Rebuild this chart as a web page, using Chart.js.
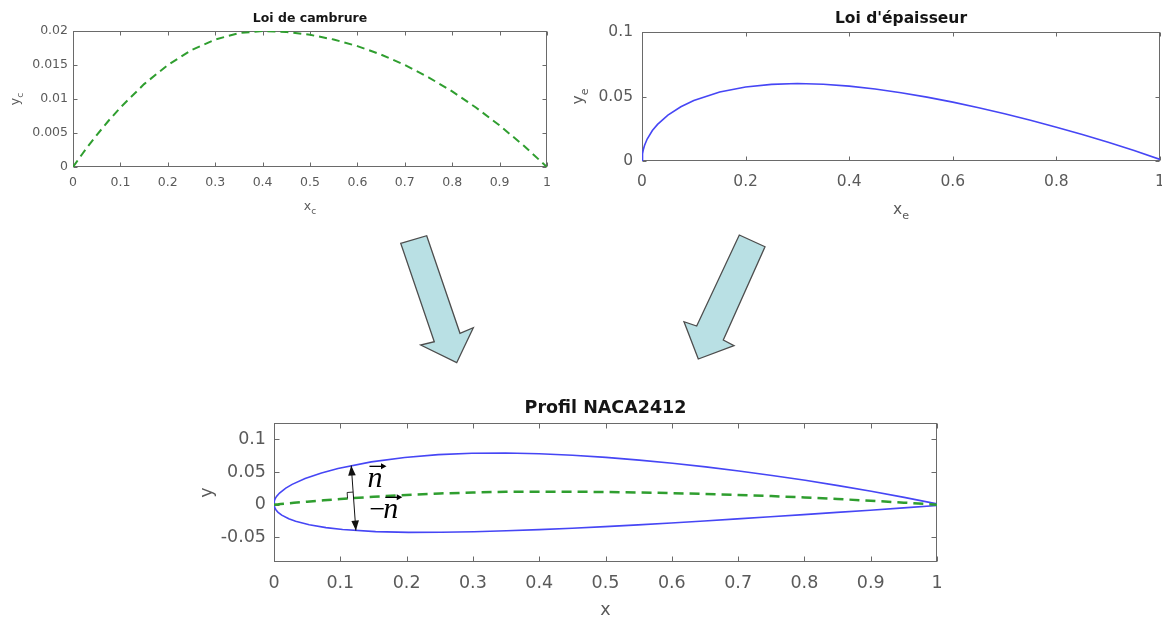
<!DOCTYPE html>
<html><head><meta charset="utf-8">
<script src="https://cdn.jsdelivr.net/npm/chart.js@4.4.1/dist/chart.umd.min.js"></script>
<style>
html,body{margin:0;padding:0;background:#fff;overflow:hidden;width:1162px;height:619px;}
#wrap{position:relative;width:1162px;height:619px;}
canvas{position:absolute;}
</style></head><body>
<div id="wrap">
<canvas id="arrows" width="1162" height="619" style="left:0px;top:0px"></canvas>
<canvas id="c1" width="560" height="220" style="left:0px;top:0px"></canvas>
<canvas id="c2" width="592" height="225" style="left:570px;top:0px"></canvas>
<canvas id="c3" width="780" height="224" style="left:180px;top:395px"></canvas>
</div>
<script>
// ---------- data (NACA 2412) ----------
const xs = [0,0.001,0.0025,0.005,0.01,0.02,0.03,0.05,0.075,0.1,0.15,0.2,0.25,0.3,0.35,0.4,0.45,0.5,0.55,0.6,0.65,0.7,0.75,0.8,0.85,0.9,0.95,1];
const camberY = [0,0.0001,0.00025,0.0005,0.00099,0.00195,0.00289,0.00469,0.0068,0.00875,0.01219,0.015,0.01719,0.01875,0.01969,0.02,0.01986,0.01944,0.01875,0.01778,0.01653,0.015,0.01319,0.01111,0.00875,0.00611,0.00319,0];
const thickY = [0,0.00556,0.00872,0.01221,0.01704,0.0236,0.0284,0.03555,0.042,0.04683,0.05345,0.05738,0.05941,0.06002,0.05949,0.05803,0.05581,0.05294,0.04953,0.04563,0.04133,0.03664,0.0316,0.02623,0.02053,0.01448,0.00807,0.00126];
const upperX = [0,0.00045,0.00164,0.0038,0.00835,0.01777,0.02738,0.0469,0.0716,0.0965,0.14667,0.19714,0.24777,0.2985,0.34926,0.4,0.45031,0.50059,0.55083,0.60101,0.65115,0.70122,0.75123,0.80117,0.85103,0.9008,0.95049,1];
const upperY = [0,0.00563,0.00892,0.01265,0.01794,0.02544,0.03117,0.0401,0.04866,0.05545,0.06554,0.0723,0.07656,0.07875,0.07917,0.07803,0.07567,0.07238,0.06827,0.0634,0.05784,0.05162,0.04477,0.03732,0.02925,0.02057,0.01125,0.00126];
const lowerX = [0,0.00155,0.00336,0.0062,0.01165,0.02223,0.03262,0.0531,0.0784,0.1035,0.15333,0.20287,0.25223,0.3015,0.35074,0.4,0.44969,0.49941,0.54918,0.59899,0.64885,0.69878,0.74877,0.79884,0.84898,0.8992,0.94951,1];
const lowerY = [0,-0.00543,-0.00843,-0.01166,-0.01597,-0.02154,-0.02539,-0.03073,-0.03506,-0.03795,-0.04116,-0.0423,-0.04218,-0.04125,-0.03979,-0.03803,-0.03595,-0.03349,-0.03077,-0.02785,-0.02478,-0.02162,-0.01839,-0.01509,-0.01175,-0.00834,-0.00486,-0.00126];

// normal vector annotation (data coordinates)
const nTop = [0.1165, 0.05996];
const nBottom = [0.1235, -0.03956];
const nFoot = [0.12, 0.0102];
const nFootSlope = 0.07;
const nLabelTop = [0.141, 0.0266];
const nLabelBottom = [0.144, -0.0208];

// tick labels
const xTicksTenths = [0,0.1,0.2,0.3,0.4,0.5,0.6,0.7,0.8,0.9,1];
const xTicksFifths = [0,0.2,0.4,0.6,0.8,1];
const yTicksCamber = [0,0.005,0.01,0.015,0.02];
const yTicksThick = [0,0.05,0.1];
const yTicksProfile = [-0.05,0,0.05,0.1];

// ---------- styles ----------
const FONT = '"DejaVu Sans", "Liberation Sans", sans-serif';
const AXIS_COLOR = '#6a6a6a';
const TEXT_COLOR = '#5a5a5a';
const TITLE_COLOR = '#151515';
const GREEN = '#2f9e2f';
const BLUE = '#4646f5';

function pts(xa, ya){ return xa.map((v,i)=>({x:v, y:ya[i]})); }

function axis(min, max, tickVals, size, pad, prop, val){
  return {
    type:'linear', min:min, max:max,
    grid:{display:false, drawTicks:false},
    border:{display:false},
    afterBuildTicks: s => { s.ticks = tickVals.map(v => ({value:v})); },
    ticks:{font:{family:FONT, size:size}, color:TEXT_COLOR, padding:pad, maxRotation:0, autoSkip:false,
      callback: v => String(v)},
    afterFit: s => {
      s[prop] = val;
      s.paddingLeft = 0; s.paddingRight = 0; s.paddingTop = 0; s.paddingBottom = 0;
    }
  };
}

function drawLabel(ctx, main, sub, cx, cy, size, rot){
  ctx.save();
  ctx.translate(cx, cy);
  if (rot) ctx.rotate(-Math.PI/2);
  ctx.fillStyle = TEXT_COLOR;
  ctx.textBaseline = 'alphabetic';
  ctx.textAlign = 'left';
  ctx.font = size + 'px ' + FONT;
  const w1 = ctx.measureText(main).width;
  const ss = size * 0.72;
  ctx.font = ss + 'px ' + FONT;
  const w2 = sub ? ctx.measureText(sub).width : 0;
  const x0 = -(w1 + w2) / 2;
  const base = size * 0.27;
  ctx.font = size + 'px ' + FONT;
  ctx.fillText(main, x0, base);
  if (sub) { ctx.font = ss + 'px ' + FONT; ctx.fillText(sub, x0 + w1, base + size * 0.3); }
  ctx.restore();
}

const boxPlugin = {
  id:'matBox',
  beforeDatasetsDraw(chart, args, o){
    const {ctx, chartArea:a, scales:{x, y}} = chart;
    const L = Math.round(a.left) + 0.5, R = Math.round(a.right) - 0.5;
    const T = Math.round(a.top) + 0.5, B = Math.round(a.bottom) - 0.5;
    ctx.save();
    ctx.strokeStyle = AXIS_COLOR;
    ctx.lineWidth = 1;
    ctx.beginPath();
    x.ticks.forEach(t => {
      const p = Math.round(x.getPixelForValue(t.value)) + 0.5;
      ctx.moveTo(p, B); ctx.lineTo(p, B - o.tick);
      ctx.moveTo(p, T); ctx.lineTo(p, T + o.tick);
    });
    y.ticks.forEach(t => {
      const p = Math.round(y.getPixelForValue(t.value)) + 0.5;
      ctx.moveTo(L, p); ctx.lineTo(L + o.tick, p);
      ctx.moveTo(R, p); ctx.lineTo(R - o.tick, p);
    });
    ctx.stroke();
    ctx.strokeRect(L, T, R - L, B - T);
    ctx.restore();
  },
  afterDraw(chart, args, o){
    const {ctx, chartArea:a} = chart;
    drawLabel(ctx, o.xMain, o.xSub, (a.left + a.right)/2, a.bottom + o.xOff, o.size, false);
    drawLabel(ctx, o.yMain, o.ySub, a.left - o.yOff, (a.top + a.bottom)/2, o.size, true);
  }
};

function arrowHead(ctx, tx, ty, fx, fy, len, hw){
  const dx = tx - fx, dy = ty - fy, d = Math.hypot(dx, dy);
  const ux = dx/d, uy = dy/d;
  const bx = tx - ux*len, by = ty - uy*len;
  ctx.beginPath();
  ctx.moveTo(tx, ty);
  ctx.lineTo(bx - uy*hw, by + ux*hw);
  ctx.lineTo(bx + uy*hw, by - ux*hw);
  ctx.closePath();
  ctx.fill();
}

function vecN(ctx, px, py, minus){
  ctx.save();
  ctx.fillStyle = '#000'; ctx.strokeStyle = '#000';
  ctx.textBaseline = 'alphabetic'; ctx.textAlign = 'left';
  let x0 = px;
  if (minus) {
    ctx.font = '28px "Liberation Serif", serif';
    ctx.fillText('\u2212', x0, py);
    x0 += ctx.measureText('\u2212').width - 2;
  }
  ctx.font = 'italic 30px "Liberation Serif", serif';
  const w = ctx.measureText('n').width;
  ctx.fillText('n', x0, py);
  const ay = py - 21, a0 = x0 + 2, a1 = x0 + w + 4;
  ctx.lineWidth = 1.3;
  ctx.beginPath(); ctx.moveTo(a0, ay); ctx.lineTo(a1 - 2, ay); ctx.stroke();
  arrowHead(ctx, a1, ay, a0, ay, 5.5, 3);
  ctx.restore();
}

const normalPlugin = {
  id:'normalMark',
  afterDatasetsDraw(chart){
    const {ctx, scales:{x, y}} = chart;
    const p1x = x.getPixelForValue(nTop[0]), p1y = y.getPixelForValue(nTop[1]);
    const p2x = x.getPixelForValue(nBottom[0]), p2y = y.getPixelForValue(nBottom[1]);
    const cx = x.getPixelForValue(nFoot[0]), cy = y.getPixelForValue(nFoot[1]);
    ctx.save();
    ctx.strokeStyle = '#111'; ctx.fillStyle = '#111';
    ctx.lineWidth = 1;
    ctx.beginPath(); ctx.moveTo(p1x, p1y); ctx.lineTo(p2x, p2y); ctx.stroke();
    arrowHead(ctx, p1x, p1y, p2x, p2y, 10, 3.8);
    arrowHead(ctx, p2x, p2y, p1x, p1y, 10, 3.8);
    // right-angle marker
    let tx = x.getPixelForValue(nFoot[0] + 0.01) - cx, ty = y.getPixelForValue(nFoot[1] + 0.01*nFootSlope) - cy;
    let td = Math.hypot(tx, ty); tx /= td; ty /= td;
    let nx = p1x - cx, ny = p1y - cy; let nd = Math.hypot(nx, ny); nx /= nd; ny /= nd;
    const s = 6;
    ctx.lineWidth = 0.9;
    ctx.beginPath();
    ctx.moveTo(cx - s*tx, cy - s*ty);
    ctx.lineTo(cx - s*tx + s*nx, cy - s*ty + s*ny);
    ctx.lineTo(cx + s*nx, cy + s*ny);
    ctx.stroke();
    ctx.restore();
    vecN(ctx, x.getPixelForValue(nLabelTop[0]), y.getPixelForValue(nLabelTop[1]), false);
    vecN(ctx, x.getPixelForValue(nLabelBottom[0]), y.getPixelForValue(nLabelBottom[1]), true);
  }
};

function baseOptions(padRight, xs_, ys_, title, titleSize, titlePad, box){
  return {
    responsive:false, animation:false, devicePixelRatio:1,
    layout:{padding:{left:0, right:padRight, top:0, bottom:0}},
    scales:{x:xs_, y:ys_},
    plugins:{
      legend:{display:false}, tooltip:{enabled:false},
      title:{display:true, text:title, fullSize:false, color:TITLE_COLOR,
        font:{family:FONT, size:titleSize, weight:'bold', lineHeight:1.2}, padding:titlePad},
      matBox:box
    }
  };
}

// ---------- chart 1 : Loi de cambrure ----------
new Chart(document.getElementById('c1'), {
  type:'scatter',
  data:{datasets:[{data:pts(xs, camberY), showLine:true, borderColor:GREEN, borderWidth:2,
    borderDash:[8,5], pointRadius:0, fill:false}]},
  options: baseOptions(13,
    axis(0, 1, xTicksTenths, 12.5, 8.5, 'height', 53),
    axis(0, 0.02, yTicksCamber, 12.5, 5, 'width', 73),
    'Loi de cambrure', 12.5, {top:11.5, bottom:4.5},
    {tick:4, xMain:'x', xSub:'c', yMain:'y', ySub:'c', xOff:40, yOff:57, size:12.5}),
  plugins:[boxPlugin]
});

// ---------- chart 2 : Loi d'épaisseur ----------
new Chart(document.getElementById('c2'), {
  type:'scatter',
  data:{datasets:[{data:pts(xs, thickY), showLine:true, borderColor:BLUE, borderWidth:1.6,
    pointRadius:0, fill:false}]},
  options: baseOptions(2,
    axis(0, 1, xTicksFifths, 15.5, 11.5, 'height', 64),
    axis(0, 0.1, yTicksThick, 15.5, 9, 'width', 72),
    "Loi d'épaisseur", 15.5, {top:9.7, bottom:3.7},
    {tick:4, xMain:'x', xSub:'e', yMain:'y', ySub:'e', xOff:49, yOff:63, size:15.5}),
  plugins:[boxPlugin]
});

// ---------- chart 3 : Profil NACA2412 ----------
new Chart(document.getElementById('c3'), {
  type:'scatter',
  data:{datasets:[
    {data:pts(xs, camberY), showLine:true, borderColor:GREEN, borderWidth:2.5, borderDash:[10,6], pointRadius:0, fill:false},
    {data:pts(upperX, upperY), showLine:true, borderColor:BLUE, borderWidth:1.6, pointRadius:0, fill:false},
    {data:pts(lowerX, lowerY), showLine:true, borderColor:BLUE, borderWidth:1.6, pointRadius:0, fill:false}
  ]},
  options: baseOptions(23,
    axis(0, 1, xTicksTenths, 17.5, 10.5, 'height', 57),
    axis(-0.0876, 0.125, yTicksProfile, 17.5, 8, 'width', 94),
    'Profil NACA2412', 17.5, {top:2.5, bottom:4.5},
    {tick:5, xMain:'x', xSub:'', yMain:'y', ySub:'', xOff:48, yOff:67, size:17.5}),
  plugins:[boxPlugin, normalPlugin]
});

// ---------- decorative arrows between the panels ----------
(function(){
  const ctx = document.getElementById('arrows').getContext('2d');
  const shapes = [
    [[400.7,243.3],[426.7,235.7],[460,333.3],[473.3,327.7],[456.7,362.7],[420.7,345],[434.3,341.7]],
    [[739.3,235],[765,246.7],[723.3,340],[734,345.7],[698.3,359],[684,321.7],[696.7,326]]
  ];
  ctx.fillStyle = '#b9e0e4';
  ctx.strokeStyle = '#4d4d4d';
  ctx.lineWidth = 1.3;
  ctx.lineJoin = 'miter';
  shapes.forEach(sh => {
    ctx.beginPath();
    sh.forEach((p,i) => i ? ctx.lineTo(p[0], p[1]) : ctx.moveTo(p[0], p[1]));
    ctx.closePath();
    ctx.fill(); ctx.stroke();
  });
})();
</script>
</body></html>
